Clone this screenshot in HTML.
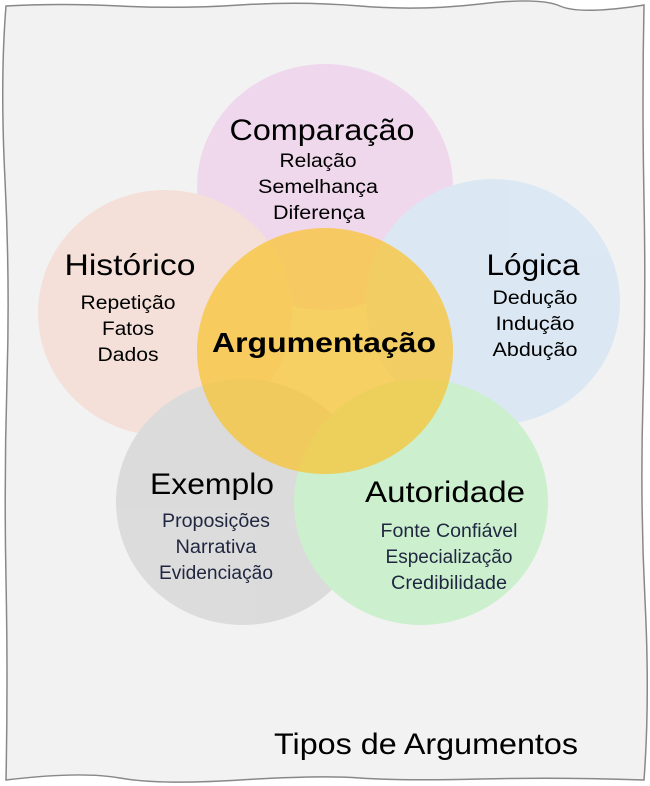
<!DOCTYPE html>
<html><head><meta charset="utf-8"><style>
html,body{margin:0;padding:0;background:#fff;width:650px;height:786px;overflow:hidden}
svg{display:block}
text{font-family:"Liberation Sans",sans-serif;text-anchor:middle}
</style></head><body>
<svg width="650" height="786" viewBox="0 0 650 786" xmlns="http://www.w3.org/2000/svg">
<path d="M6,6 Q60,3 120,6 T240,5 T360,6 T480,4 T560,6 T644,5 Q642,100 644,200 T643,400 T645,600 T644,780 Q560,777 480,779 T360,778 T240,780 T120,778 T6,780 Q8,680 6,580 T7,380 T5,180 T6,6 Z" fill="#f2f2f2" stroke="#888" stroke-width="1.5"/>
<g opacity="0.85">
<ellipse cx="325" cy="187" rx="128" ry="123" fill="#efd3ec"/>
<ellipse cx="165" cy="313" rx="127" ry="123" fill="#f5ddd5"/>
<ellipse cx="493" cy="302" rx="127" ry="123" fill="#d8e7f4"/>
<ellipse cx="243" cy="502" rx="127" ry="123" fill="#d8d8d8"/>
<ellipse cx="421" cy="502" rx="127" ry="123" fill="#c6f0c8"/>
</g>
<ellipse cx="325" cy="351" rx="128" ry="123" fill="#f8c434" opacity="0.75"/>
<g fill="#000" lengthAdjust="spacingAndGlyphs">
<text x="322" y="140" font-size="30" textLength="185" lengthAdjust="spacingAndGlyphs">Comparação</text>
<text x="318" y="167" font-size="19" textLength="77" lengthAdjust="spacingAndGlyphs">Relação</text>
<text x="318" y="193" font-size="19" textLength="120" lengthAdjust="spacingAndGlyphs">Semelhança</text>
<text x="319" y="219" font-size="19" textLength="92" lengthAdjust="spacingAndGlyphs">Diferença</text>
<text x="130" y="275" font-size="30" textLength="131" lengthAdjust="spacingAndGlyphs">Histórico</text>
<text x="128" y="309" font-size="19" textLength="95" lengthAdjust="spacingAndGlyphs">Repetição</text>
<text x="128" y="335" font-size="19" textLength="52" lengthAdjust="spacingAndGlyphs">Fatos</text>
<text x="128" y="361" font-size="19" textLength="61" lengthAdjust="spacingAndGlyphs">Dados</text>
<text x="533" y="275" font-size="30" textLength="93" lengthAdjust="spacingAndGlyphs">Lógica</text>
<text x="535" y="304" font-size="19" textLength="85" lengthAdjust="spacingAndGlyphs">Dedução</text>
<text x="535" y="330" font-size="19" textLength="79" lengthAdjust="spacingAndGlyphs">Indução</text>
<text x="535" y="356" font-size="19" textLength="85" lengthAdjust="spacingAndGlyphs">Abdução</text>
<text x="324" y="352" font-size="28" font-weight="bold" textLength="224" lengthAdjust="spacingAndGlyphs">Argumentação</text>
<text x="212" y="494" font-size="30" textLength="124" lengthAdjust="spacingAndGlyphs">Exemplo</text>
<text x="445" y="502" font-size="30" textLength="160" lengthAdjust="spacingAndGlyphs">Autoridade</text>
</g>
<g fill="#1f2740">
<text x="216" y="527" font-size="19" textLength="108" lengthAdjust="spacingAndGlyphs">Proposições</text>
<text x="216" y="553" font-size="19" textLength="81" lengthAdjust="spacingAndGlyphs">Narrativa</text>
<text x="216" y="579" font-size="19" textLength="114" lengthAdjust="spacingAndGlyphs">Evidenciação</text>
<text x="449" y="537" font-size="19" textLength="137" lengthAdjust="spacingAndGlyphs">Fonte Confiável</text>
<text x="449" y="563" font-size="19" textLength="127" lengthAdjust="spacingAndGlyphs">Especialização</text>
<text x="449" y="589" font-size="19" textLength="116" lengthAdjust="spacingAndGlyphs">Credibilidade</text>
</g>
<text x="426" y="754" font-size="30" fill="#000" textLength="304" lengthAdjust="spacingAndGlyphs">Tipos de Argumentos</text>
</svg>
</body></html>
